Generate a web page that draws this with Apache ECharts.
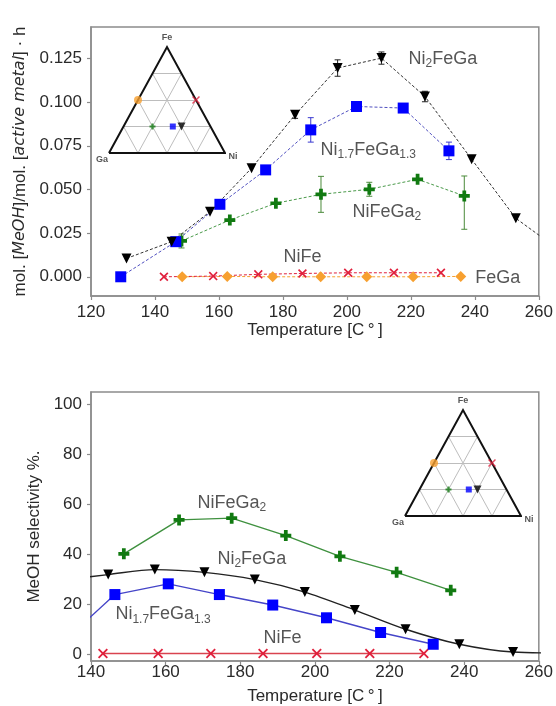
<!DOCTYPE html>
<html>
<head>
<meta charset="utf-8">
<script src="https://cdn.jsdelivr.net/npm/echarts@6/dist/echarts.min.js"></script>
<style>
  html, body { margin: 0; padding: 0; background: #fff; }
  #chart { width: 556px; height: 706px; }
</style>
</head>
<body>
<div id="chart"></div>
<script>
// ---------- Methanol formation rate (mol MeOH / mol active metal · h) ----------
const rateTempNi2FeGa = [131.1, 145.2, 157.2, 170.2, 183.8, 197.1, 210.8, 224.4, 239.0, 252.8, 267.0];
const rateNi2FeGa     = [0.0105, 0.0201, 0.0373, 0.0622, 0.0927, 0.1195, 0.1252, 0.1032, 0.0673, 0.0335, 0.0145];
const rateErrNi2FeGa  = [0, 0, 0, 0, 0.002, 0.0047, 0.0035, 0.003, 0, 0, 0];

const rateTempNi17    = [129.3, 146.5, 160.3, 174.6, 188.7, 203.0, 217.6, 231.9];
const rateNi17        = [0.0000, 0.0201, 0.0415, 0.0612, 0.0841, 0.0975, 0.0966, 0.0721];
const rateErrNi17     = [0, 0, 0, 0, 0.007, 0, 0, 0.005];

const rateTempNiFeGa2 = [148.3, 163.4, 177.8, 191.9, 207.0, 222.1, 236.7];
const rateNiFeGa2     = [0.0205, 0.0325, 0.0421, 0.0472, 0.0501, 0.0558, 0.0463];
const rateErrLoNiFeGa2 = [0.004, 0, 0, 0.0103, 0.004, 0, 0.0191];
const rateErrHiNiFeGa2 = [0.004, 0, 0, 0.0103, 0.004, 0, 0.0114];

const rateTempNiFe    = [142.8, 158.2, 172.3, 186.1, 200.4, 214.7, 229.4];
const rateNiFe        = [0.0000, 0.0004, 0.0014, 0.0019, 0.0023, 0.0023, 0.0023];

const rateTempFeGa    = [148.5, 162.6, 176.8, 191.8, 206.2, 220.7, 235.6];
const rateFeGa        = [0.0000, 0.0002, 0.0000, 0.0000, 0.0000, 0.0000, 0.0002];

const rateTicks = [0, 0.025, 0.05, 0.075, 0.1, 0.125];
const tempTicksTop = [120, 140, 160, 180, 200, 220, 240, 260];

// ---------- Methanol selectivity (%) ----------
const selTempNiFeGa2 = [148.8, 163.6, 177.7, 192.2, 206.7, 221.9, 236.4];
const selNiFeGa2     = [40.2, 53.8, 54.5, 47.5, 39.2, 32.8, 25.6];

const selTempNi2FeGa = [131.1, 144.6, 157.1, 170.4, 183.9, 197.3, 210.7, 224.3, 238.7, 253.1, 267.0];
const selNi2FeGa     = [29.5, 31.9, 33.9, 32.8, 29.9, 24.9, 17.7, 10.0, 4.0, 0.9, 0.5];

const selTempNi17    = [129.3, 146.4, 160.7, 174.4, 188.7, 203.1, 217.6, 231.7];
const selNi17        = [0.5, 23.9, 28.2, 23.9, 19.7, 14.6, 8.7, 4.0];

const selTempNiFe    = [143.2, 158.0, 172.1, 186.1, 200.5, 214.7, 229.2];
const selNiFe        = [0.3, 0.3, 0.3, 0.3, 0.3, 0.3, 0.3];

const selTicks = [0, 20, 40, 60, 80, 100];
const tempTicksBottom = [140, 160, 180, 200, 220, 240, 260];

// ---------- Compositions shown in the Fe–Ni–Ga ternary diagrams ----------
const alloyNames = ['Ni2FeGa', 'Ni1.7FeGa1.3', 'NiFeGa2', 'NiFe', 'FeGa'];
const fracFe = [0.25, 0.25, 0.25, 0.5, 0.5];
const fracNi = [0.5, 0.425, 0.25, 0.5, 0.0];
const fracGa = [0.25, 0.325, 0.5, 0.0, 0.5];

// ---------- Curve annotations (placed in data units) ----------
const tagsTop = ['{n|Ni}{s|2}{n|FeGa}', '{n|Ni}{s|1.7}{n|FeGa}{s|1.3}', '{n|NiFeGa}{s|2}', '{n|NiFe}', '{n|FeGa}'];
const tagsTopT = [219.1, 191.6, 201.6, 180.0, 240.0];
const tagsTopV = [0.1248, 0.0726, 0.0371, 0.0113, -0.0007];

const tagsBottom = ['{n|NiFeGa}{s|2}', '{n|Ni}{s|2}{n|FeGa}', '{n|Ni}{s|1.7}{n|FeGa}{s|1.3}', '{n|NiFe}'];
const tagsBottomT = [168.4, 173.75, 146.4, 186.1];
const tagsBottomV = [60.6, 38.3, 16.0, 6.4];

// ---------- styling ----------
const FONT = '"Liberation Sans", Arial, sans-serif';
const INK = '#2a2a2a';
const FRAME = '#8c8c8c';

const C_BLACK = '#000000';
const C_BLUE = '#0000ff';
const C_GREEN = '#117a11';
const C_RED = '#e0203c';
const C_ORANGE = '#f7a030';

const SYM_PLUS = 'path://M3.3,0H6.7V3.3H10V6.7H6.7V10H3.3V6.7H0V3.3H3.3Z';
const SYM_X = 'path://M0,1.3L1.3,0L5,3.7L8.7,0L10,1.3L6.3,5L10,8.7L8.7,10L5,6.3L1.3,10L0,8.7L3.7,5Z';

const alloySymbol = ['triangle', 'rect', SYM_PLUS, SYM_X, 'circle'];
const alloyColor = [C_BLACK, C_BLUE, C_GREEN, C_RED, C_ORANGE];
const alloySize = [8, 6, 6, 8, 8];
const alloyRotate = [180, 0, 0, 0, 0];

const richTag = {
  n: { fontFamily: FONT, fontSize: 18, color: INK, lineHeight: 22 },
  s: { fontFamily: FONT, fontSize: 12, color: INK, lineHeight: 12, verticalAlign: 'bottom', padding: [6, 0, 0, 0] }
};

function pairs(xs, ys) { return xs.map((x, i) => [x, ys[i]]); }

function lineSeries(idx, xs, ys, opt) {
  return {
    type: 'line', xAxisIndex: idx, yAxisIndex: idx,
    data: pairs(xs, ys),
    symbol: opt.symbol, symbolSize: opt.size, symbolRotate: opt.rotate || 0,
    showAllSymbol: true, smooth: opt.smooth || false,
    clip: true, z: 3,
    itemStyle: { color: opt.color, borderWidth: 0 },
    lineStyle: { color: opt.lineColor || opt.color, width: opt.width || 1, type: opt.dash ? [3, 2] : 'solid' },
    emphasis: { disabled: true }
  };
}

function errorSeries(idx, xs, ys, lo, hi, color) {
  const data = [];
  xs.forEach((x, i) => {
    if (lo[i] > 0 || hi[i] > 0) data.push([x, ys[i] - lo[i], ys[i] + hi[i]]);
  });
  return {
    type: 'custom', xAxisIndex: idx, yAxisIndex: idx, z: 2, data,
    renderItem(params, api) {
      const a = api.coord([api.value(0), api.value(1)]);
      const b = api.coord([api.value(0), api.value(2)]);
      const st = { stroke: color, lineWidth: 1 };
      return {
        type: 'group', children: [
          { type: 'line', shape: { x1: a[0], y1: a[1], x2: b[0], y2: b[1] }, style: st },
          { type: 'line', shape: { x1: a[0] - 3, y1: a[1], x2: a[0] + 3, y2: a[1] }, style: st },
          { type: 'line', shape: { x1: b[0] - 3, y1: b[1], x2: b[0] + 3, y2: b[1] }, style: st }
        ]
      };
    }
  };
}

function tagSeries(idx, xs, ys, texts) {
  return {
    type: 'scatter', xAxisIndex: idx, yAxisIndex: idx, z: 5,
    symbolSize: 1, itemStyle: { color: 'rgba(0,0,0,0)' }, silent: true,
    data: texts.map((t, i) => ({ name: t, value: [xs[i], ys[i]] })),
    label: { show: true, position: 'right', distance: 0, formatter: '{b}', rich: richTag }
  };
}

// ternary helpers: Ga at (0,0), Ni at (1,0), Fe at the apex
const H = Math.sqrt(3) / 2;
function tern(fe, ni) { return [ni + fe / 2, fe * H]; }

function ternarySeries(idx) {
  const out = [];
  const segs = [];
  for (let k = 1; k < 4; k++) {
    const f = k / 4;
    segs.push({ coords: [tern(f, 0), tern(f, 1 - f)] });        // constant Fe
    segs.push({ coords: [tern(0, f), tern(1 - f, f)] });        // constant Ni
    segs.push({ coords: [tern(0, 1 - f), tern(1 - f, 0)] });    // constant Ga
  }
  out.push({
    type: 'lines', coordinateSystem: 'cartesian2d', xAxisIndex: idx, yAxisIndex: idx,
    data: segs, z: 6, silent: true,
    lineStyle: { color: '#bdbdbd', width: 1, opacity: 1 }
  });
  const ga = tern(0, 0), ni = tern(0, 1), fe = tern(1, 0);
  out.push({
    type: 'line', xAxisIndex: idx, yAxisIndex: idx, z: 7, silent: true, clip: false,
    data: [ga, ni, fe, ga], symbol: 'none',
    lineStyle: { color: '#111', width: 2, join: 'miter' }
  });
  alloyNames.forEach((nm, i) => {
    out.push({
      type: 'scatter', xAxisIndex: idx, yAxisIndex: idx, z: 8, clip: false, silent: true,
      data: [tern(fracFe[i], fracNi[i])],
      symbol: alloySymbol[i], symbolSize: alloySize[i], symbolRotate: alloyRotate[i],
      itemStyle: { color: alloyColor[i] }
    });
  });
  const vLabel = { fontFamily: FONT, fontSize: 9, fontWeight: 'bold', color: INK };
  out.push({
    type: 'scatter', xAxisIndex: idx, yAxisIndex: idx, z: 8, clip: false, silent: true,
    symbolSize: 1, itemStyle: { color: 'rgba(0,0,0,0)' },
    data: [
      { value: fe, label: { show: true, formatter: 'Fe', position: 'inside', offset: [0, -9], ...vLabel } },
      { value: ga, label: { show: true, formatter: 'Ga', position: 'inside', offset: [-7, 7], ...vLabel } },
      { value: ni, label: { show: true, formatter: 'Ni', position: 'inside', offset: [8, 4], ...vLabel } }
    ]
  });
  return out;
}

const axisCommon = {
  axisLine: { show: true, onZero: false, lineStyle: { color: FRAME, width: 1.5 } },
  axisTick: { show: true, length: 4, lineStyle: { color: FRAME, width: 1.2 } },
  splitLine: { show: false },
  nameTextStyle: { fontFamily: FONT, fontSize: 17, color: INK }
};

function hiddenAxes(idx) {
  return {
    x: { gridIndex: idx, type: 'value', min: 0, max: 1, show: false },
    y: { gridIndex: idx, type: 'value', min: 0, max: H, show: false }
  };
}
const inTop = hiddenAxes(1), inBot = hiddenAxes(3);

const option = {
  animation: false,
  backgroundColor: '#fff',
  grid: [
    { left: 91, top: 27, width: 448, height: 269, show: true, borderColor: FRAME, borderWidth: 1.5 },
    { left: 109, top: 47, width: 116, height: 106 },
    { left: 91, top: 392, width: 448, height: 270, show: true, borderColor: FRAME, borderWidth: 1.5 },
    { left: 405, top: 410, width: 116, height: 106 }
  ],
  xAxis: [
    Object.assign({}, axisCommon, {
      gridIndex: 0, type: 'value', min: 120, max: 260, interval: 20,
      name: 'Temperature [C\u2009°\u2009]', nameLocation: 'middle', nameGap: 14,
      axisLabel: { fontFamily: FONT, fontSize: 17, color: INK, margin: 8, customValues: tempTicksTop }
    }),
    inTop.x,
    Object.assign({}, axisCommon, {
      gridIndex: 2, type: 'value', min: 140, max: 260, interval: 20,
      name: 'Temperature [C\u2009°\u2009]', nameLocation: 'middle', nameGap: 27,
      axisLabel: { fontFamily: FONT, fontSize: 17, color: INK, margin: 3, customValues: tempTicksBottom }
    }),
    inBot.x
  ],
  yAxis: [
    Object.assign({}, axisCommon, {
      gridIndex: 0, type: 'value', min: -0.011, max: 0.143,
      axisTick: Object.assign({}, axisCommon.axisTick, { customValues: rateTicks }),
      axisLabel: { fontFamily: FONT, fontSize: 17, color: INK, margin: 9, customValues: rateTicks,
        formatter: v => v.toFixed(3) },
      name: '{r|mol. [}{i|MeOH}{r|]/mol. [}{i|active metal}{r|] · h}',
      nameLocation: 'middle', nameGap: 55, nameRotate: 90,
      nameTextStyle: { rich: {
        r: { fontFamily: FONT, fontSize: 17, color: INK },
        i: { fontFamily: '"DejaVu Sans", sans-serif', fontStyle: 'italic', fontSize: 16, color: INK }
      } }
    }),
    inTop.y,
    Object.assign({}, axisCommon, {
      gridIndex: 2, type: 'value', min: -2.7, max: 105,
      axisTick: Object.assign({}, axisCommon.axisTick, { customValues: selTicks }),
      axisLabel: { fontFamily: FONT, fontSize: 17, color: INK, margin: 9, customValues: selTicks },
      name: 'MeOH selectivity %.', nameLocation: 'middle', nameGap: 40, nameRotate: 90
    }),
    inBot.y
  ],
  series: [
    // rate panel
    errorSeries(0, rateTempNi2FeGa, rateNi2FeGa, rateErrNi2FeGa, rateErrNi2FeGa, '#222'),
    errorSeries(0, rateTempNi17, rateNi17, rateErrNi17, rateErrNi17, '#3a3ad0'),
    errorSeries(0, rateTempNiFeGa2, rateNiFeGa2, rateErrLoNiFeGa2, rateErrHiNiFeGa2, '#4a8a3a'),
    lineSeries(0, rateTempFeGa, rateFeGa, { symbol: 'diamond', size: 11, color: C_ORANGE, dash: true }),
    lineSeries(0, rateTempNiFe, rateNiFe, { symbol: SYM_X, size: 9, color: C_RED, dash: true }),
    lineSeries(0, rateTempNiFeGa2, rateNiFeGa2, { symbol: SYM_PLUS, size: 11, color: C_GREEN, lineColor: '#4a9a4a', dash: true }),
    lineSeries(0, rateTempNi17, rateNi17, { symbol: 'rect', size: 11, color: C_BLUE, lineColor: '#5050c0', dash: true }),
    lineSeries(0, rateTempNi2FeGa, rateNi2FeGa, { symbol: 'triangle', size: 10, rotate: 180, color: C_BLACK, lineColor: '#333', dash: true }),
    tagSeries(0, tagsTopT, tagsTopV, tagsTop),
    ...ternarySeries(1),
    // selectivity panel
    lineSeries(2, selTempNiFe, selNiFe, { symbol: SYM_X, size: 10, color: C_RED, lineColor: '#d9434f', width: 1.4 }),
    lineSeries(2, selTempNiFeGa2, selNiFeGa2, { symbol: SYM_PLUS, size: 11, color: C_GREEN, lineColor: '#3f913f', width: 1.4 }),
    lineSeries(2, selTempNi17, selNi17, { symbol: 'rect', size: 11, color: C_BLUE, lineColor: '#4545c8', width: 1.4 }),
    lineSeries(2, selTempNi2FeGa, selNi2FeGa, { symbol: 'triangle', size: 10, rotate: 180, color: C_BLACK, lineColor: '#222', width: 1.4, smooth: 0.3 }),
    tagSeries(2, tagsBottomT, tagsBottomV, tagsBottom),
    ...ternarySeries(3)
  ]
};

const chart = echarts.init(document.getElementById('chart'), null, { renderer: 'canvas' });
chart.setOption(option);
</script>
</body>
</html>
